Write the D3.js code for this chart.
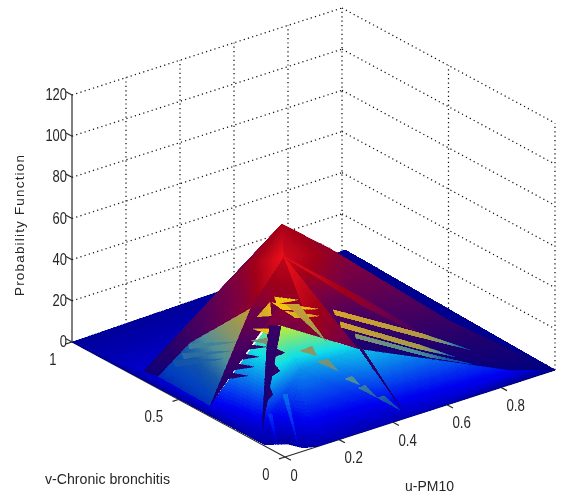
<!DOCTYPE html>
<html><head><meta charset="utf-8">
<script src="https://cdn.jsdelivr.net/npm/d3@7"></script>
<style>html,body{margin:0;padding:0;background:#fff;overflow:hidden}
svg{display:block;filter:blur(.4px)}
text{font-family:"Liberation Sans",Arial,sans-serif;fill:#262626}</style>
</head><body><script>
const zTicks=[0,20,40,60,80,100,120];
const uTicks=[0,0.2,0.4,0.6,0.8];
const vTicks=[0,0.5,1];
const uGrid=[0.2,0.4,0.6,0.8,1];
const vGrid=[0.5,0,1];
const axisTitles=["u-PM10","v-Chronic bronchitis","Probability Function"];

const meshNames=["L","R","A","K1","K2","K3","B4","C","T","B1","B2","N","M1","M2","M3","M4","S1","S1a","S1b","S2","Q1","Q2","E","F1","F2","F3","F4","P1","G","W3","R2a","R3a","R3b","R4c","R4d","Mid"];
const meshU=[0,1,.496,.201,.564,.586,.677,.430,.243,.039,.052,.026,.347,.227,.296,.345,.515,.523,.506,.602,.402,.899,.437,.061,.006,.081,.122,.269,.059,.047,.310,.244,.274,.368,.341,.223];
const meshV=[1,0,.643,.570,.466,.461,.084,.550,.468,.715,.662,.480,.595,.387,.305,.320,.286,.297,.275,.036,.167,.069,0,.067,.101,.017,0,.373,.183,.411,.425,.389,.366,.223,.315,.212];
const meshZ=[0,0,56.4,39.9,49.3,50.1,33.1,48.4,36.0,0,0,27.6,47.4,31.0,29.3,32.2,37.5,38.5,36.5,27.3,26.1,0,0,0,0,0,0,31.9,0,0,36.5,31.7,31.7,27.8,31.7,21.0];

const floorFaces=[["L","K1","B1",.01,.01,.07],["L","B1","F2",.01,.07,.02],["B1","W3","F2",.07,.09,.02],["B1","B2","W3",.07,.08,.09],["W3","G","F2",.09,.06,.02]];
const wedgeFaces=[["T","N","W3",.8,.3,.08],["N","B2","W3",.3,.06,.08]];
const gapFaces=[["R3a","W3","G",.48,.09,.06]];
const crownFaces=[["A","K1","M1",.76,.5,.72],["A","M1","C",.76,.72,1],["K1","T","M1",.5,.66,.74],["M1","T","C",.74,.68,1],["K1","B1","N",.5,.08,.3],["B1","B2","N",.08,.08,.3],["K1","N","T",.5,.3,.68],
["C","T","M2",.85,.6,.56],["C","M2","M3",.85,.56,.56],["C","M3","M4",.85,.56,.62],["M3","M4","R4d",.56,.62,.62],["M3","R4d","P1",.56,.62,.55],["M3","R4d","R4c",.56,.7,.6],["M2","M3","P1",.56,.56,.55],["M2","P1","R3a",.56,.55,.5],
["A","K2","C",.78,.66,.9],["K2","S1b","C",.66,.42,.9],["K2","R","S2",.66,0,.2],["K2","S2","S1b",.66,.2,.42],["C","S1b","Q1",.9,.42,.15],["S1b","S2","Q1",.42,.2,.15],["S2","Q2","Q1",.2,.02,.15],["S2","R","Q2",.2,0,.02],
["C","S1a","S1b",1,.66,.66],["S1a","S2","S1b",.66,.22,.66],
["C","R4d","R4c",1,.76,.6],["C","R4c","Q1",1,.6,.5],
["T","R2a","W3",.56,.54,.1]];
const rimFaces=[["K2","K3","R",0,0,0],["K2","R","B4",0,0,0]];
const frontFaces=[["P1","Q1","Mid",.57,.33,.27],["P1","Mid","G",.57,.27,.06],["Mid","Q1","E",.27,.33,.04],["Q1","Q2","E",.33,.11,.04],["Q2","R","E",.11,0,.04],["Mid","E","F4",.27,.04,.03],["Mid","F4","F3",.27,.03,.02],["Mid","F3","F1",.27,.02,.02],["Mid","F1","G",.27,.02,.06],["G","F1","F2",.06,.02,.02]];
const ribbonFaces=[["R3a","R3b","G",.3,.3,.08]];

// free triangles: u,v,z,shade three times
const streakTeeth=[
[.321,.457,38.7,1, .369,.407,38.0,1, .312,.433,37.0,1],
[.303,.445,37.3,1, .396,.347,35.8,.95, .313,.406,35.6,1],
[.315,.400,35.3,.95, .384,.326,34.1,.85, .325,.362,33.6,.9],
[.237,.432,33.9,.85, .300,.450,37.5,.95, .273,.411,34.1,.95],
[.202,.406,31.0,.95, .239,.378,31.0,1, .227,.367,29.8,1],
[.172,.378,28.1,.5, .218,.356,28.8,.55, .202,.341,27.3,.55],
[.332,.417,37.0,.85, .362,.394,37.0,.85, .345,.241,27.8,.6],
[.429,.317,35.6,.88, .423,.301,34.4,.88, .585,.094,29.8,.72],
[.423,.301,34.4,.88, .576,.083,28.8,.72, .585,.094,29.8,.72],
[.585,.094,29.8,.72, .576,.083,28.8,.72, .685,0,23.1,.15],
[.419,.273,32.7,.85, .410,.257,31.4,.85, .554,.069,27.1,.68],
[.410,.257,31.4,.85, .545,.058,26.1,.68, .554,.069,27.1,.68],
[.554,.069,27.1,.68, .545,.058,26.1,.68, .630,0,22.0,.15],
[.428,.214,29.8,.55, .421,.201,28.8,.55, .557,.026,24.9,.35],
[.421,.201,28.8,.55, .551,.018,24.2,.35, .557,.026,24.9,.35],
[.557,.026,24.9,.35, .551,.018,24.2,.35, .693,0,15.8,.1]];
const wedgeTeeth=[
[.020,.480,27.3,.36, .137,.400,27.8,.38, .013,.464,26.1,.36],
[0,.484,23.3,.3, .102,.387,25.6,.34, 0,.474,21.3,.3],
[0,.526,17.4,.22, .069,.377,23.7,.3, 0,.512,15.3,.22]];
const diamondTeeth=[
[.264,.264,25.6,.62, .302,.256,26.9,.62, .292,.221,24.4,.55],
[.279,.204,23.0,.52, .311,.192,23.7,.52, .309,.142,20.8,.45],
[.307,.108,18.9,.42, .330,.104,19.6,.42, .329,.065,17.4,.38],
[.318,.060,16.7,.34, .341,.056,17.4,.34, .342,0,14.3,.28],
[.342,0,14.3,.28, .367,0,14.3,.28, .426,0,4.8,.16]];
const darkTeeth=[
[.058,.323,20.3,.24, .089,.287,19.6,.2, .039,.313,18.9,.24],
[.092,.338,22.5,.27, .122,.301,21.8,.22, .070,.328,21.0,.27],
[.127,.354,24.9,.3, .156,.320,24.2,.26, .106,.345,23.5,.3],
[.163,.367,27.1,.34, .194,.335,26.6,.3, .141,.362,25.9,.34],
[.215,.310,26.1,.28, .225,.285,25.2,.28, .193,.292,24.2,.28],
[.176,.274,22.5,.24, .174,.244,20.8,.24, .141,.244,19.4,.24],
[.116,.218,16.9,.2, .106,.191,15.0,.2, .079,.185,13.5,.2],
[.410,.192,27.8,.3, .412,.151,25.6,.3, .437,0,3.9,.14]];
const rayTeeth=[
[.131,.176,15.2,.24, .141,.168,15.2,.24, .078,.037,0,.09],
[.054,.148,10.4,.17, .063,.141,10.4,.17, .034,.080,0,.07]];

const jet=d3.scaleLinear().domain([0,.11,.36,.61,.86,1]).range(["#00008f","#0000f0","#10e0e8","#f4f000","#ff0000","#800000"]);
const ember=d3.scaleLinear().domain([0,.2,.4,.6,.75,.9,1]).range(["#000080","#22006e","#50005c","#7d0040","#a00018","#d00a1a","#f01018"]);
const sand=d3.scaleLinear().domain([0,.12,.25,.4,.55,.7,.85,1]).range(["#0018a8","#0040c0","#1558a8","#4f8f98","#84946c","#a89a48","#d0a030","#f2c410"]);

const width=564,height=495,originX=285,originY=457;
const xU=d3.scaleLinear().domain([0,1]).range([0,270]);
const xV=d3.scaleLinear().domain([0,1]).range([0,-213]);
const yU=d3.scaleLinear().domain([0,1]).range([0,-87]);
const yV=d3.scaleLinear().domain([0,1]).range([0,-115]);
const yZ=d3.scaleLinear().domain([0,120]).range([0,-247]);
const project=(u,v,z)=>[originX+xU(u)+xV(v),originY+yU(u)+yV(v)+yZ(z)];

const svg=d3.select("body").append("svg").attr("width",width).attr("height",height);

// dotted walls
const gridG=svg.append("g").attr("fill","none").attr("stroke","#111").attr("stroke-width",1.25).attr("stroke-dasharray","1.2 3.2");
const seg=(a,b)=>{const p=project(...a),q=project(...b);gridG.append("line").attr("x1",p[0]).attr("y1",p[1]).attr("x2",q[0]).attr("y2",q[1]);};
zTicks.filter(z=>z>0).forEach(z=>{seg([0,1,z],[1,1,z]);seg([1,1,z],[1,0,z]);});
uGrid.forEach(u=>seg([u,1,0],[u,1,120]));
vGrid.forEach(v=>{if(v<1)seg([1,v,0],[1,v,120]);});

// axes
const axisG=svg.append("g").attr("fill","none").attr("stroke","#2a2a2a").attr("stroke-width",1.2);
const axisLine=(a,b)=>{const p=project(...a),q=project(...b);axisG.append("line").attr("x1",p[0]).attr("y1",p[1]).attr("x2",q[0]).attr("y2",q[1]);};
axisLine([0,1,0],[0,1,120]);axisLine([0,1,0],[0,0,0]);axisLine([0,0,0],[1,0,0]);
zTicks.forEach(z=>axisLine([0,1,z],[0,1.028,z]));
uTicks.forEach(u=>axisLine([u,0,0],[u,-.028,0]));
vTicks.forEach(v=>axisLine([0,v,0],[-.022,v,0]));

// surface
const ids=new Map(meshNames.map((n,i)=>[n,i]));
const fromMesh=f=>[0,1,2].map(k=>{const i=ids.get(f[k]);return{u:meshU[i],v:meshV[i],z:meshZ[i],s:f[3+k]};});
const fromTooth=t=>[0,4,8].map(k=>({u:t[k],v:t[k+1],z:t[k+2],s:t[k+3]}));
const layers=[
 [jet,floorFaces.map(fromMesh)],[sand,wedgeFaces.map(fromMesh)],[jet,gapFaces.map(fromMesh)],[sand,wedgeTeeth.map(fromTooth)],
 [ember,crownFaces.map(fromMesh)],[jet,rimFaces.map(fromMesh)],[jet,frontFaces.map(fromMesh)],
 [ember,ribbonFaces.map(fromMesh)],[ember,darkTeeth.map(fromTooth)],[sand,diamondTeeth.map(fromTooth)],[sand,streakTeeth.map(fromTooth)],[jet,rayTeeth.map(fromTooth)]
];
function cells(tri){
 const ps=tri.map(d=>project(d.u,d.v,d.z));
 const edge=Math.max(...[0,1,2].map(i=>Math.hypot(ps[i][0]-ps[(i+1)%3][0],ps[i][1]-ps[(i+1)%3][1])));
 const n=Math.max(1,Math.ceil(edge/4));
 const at=(i,j)=>{const a=i/n,b=j/n,c=1-a-b;const m=k=>a*tri[0][k]+b*tri[1][k]+c*tri[2][k];return{p:project(m("u"),m("v"),m("z")),s:m("s")};};
 const bins=new Map();
 const add=(x,y,z)=>{const s=Math.round((x.s+y.s+z.s)/3*128)/128;
  const path=bins.get(s)||d3.path();bins.set(s,path);
  path.moveTo(...x.p);path.lineTo(...y.p);path.lineTo(...z.p);path.closePath();};
 for(let i=0;i<n;i++)for(let j=0;j<n-i;j++){
  add(at(i,j),at(i+1,j),at(i,j+1));
  if(i+j<n-1)add(at(i+1,j),at(i+1,j+1),at(i,j+1));
 }
 return Array.from(bins,([s,path])=>({s,d:path.toString()}));
}
const surface=svg.append("g").attr("class","surface").attr("shape-rendering","crispEdges");
layers.forEach(([palette,tris])=>{
 surface.append("g").selectAll("g").data(tris).join("g")
  .selectAll("path").data(cells).join("path")
  .attr("d",d=>d.d).attr("fill",d=>palette(d.s)).attr("stroke",d=>palette(d.s)).attr("stroke-width",.4);
});

// tick labels
const labelG=svg.append("g").attr("font-size",16);
const textWidth=s=>String(s).split("").reduce((w,c)=>w+(c==="."?4:7.2),0);
const label=(s,x,y,anchor)=>labelG.append("text").attr("x",x).attr("y",y).attr("text-anchor",anchor).attr("textLength",textWidth(s)).attr("lengthAdjust","spacingAndGlyphs").text(s);
zTicks.forEach(z=>{const p=project(0,1,z);label(z,p[0]-5,p[1]+5,"end");});
uTicks.forEach(u=>{const p=project(u,0,0);label(u,p[0]+5.5,p[1]+23.5,"start");});
vTicks.forEach(v=>{const p=project(0,v,0);label(v,p[0]-15.5,p[1]+22.5,"end");});

// axis titles
svg.append("text").attr("x",405).attr("y",491).attr("font-size",14).attr("textLength",49).attr("lengthAdjust","spacingAndGlyphs").text(axisTitles[0]);
svg.append("text").attr("x",45).attr("y",484).attr("font-size",14).attr("textLength",125).attr("lengthAdjust","spacingAndGlyphs").text(axisTitles[1]);
svg.append("text").attr("transform","translate(24,296) rotate(-90)").attr("font-size",13.5).attr("textLength",141).text(axisTitles[2]);
</script></body></html>
